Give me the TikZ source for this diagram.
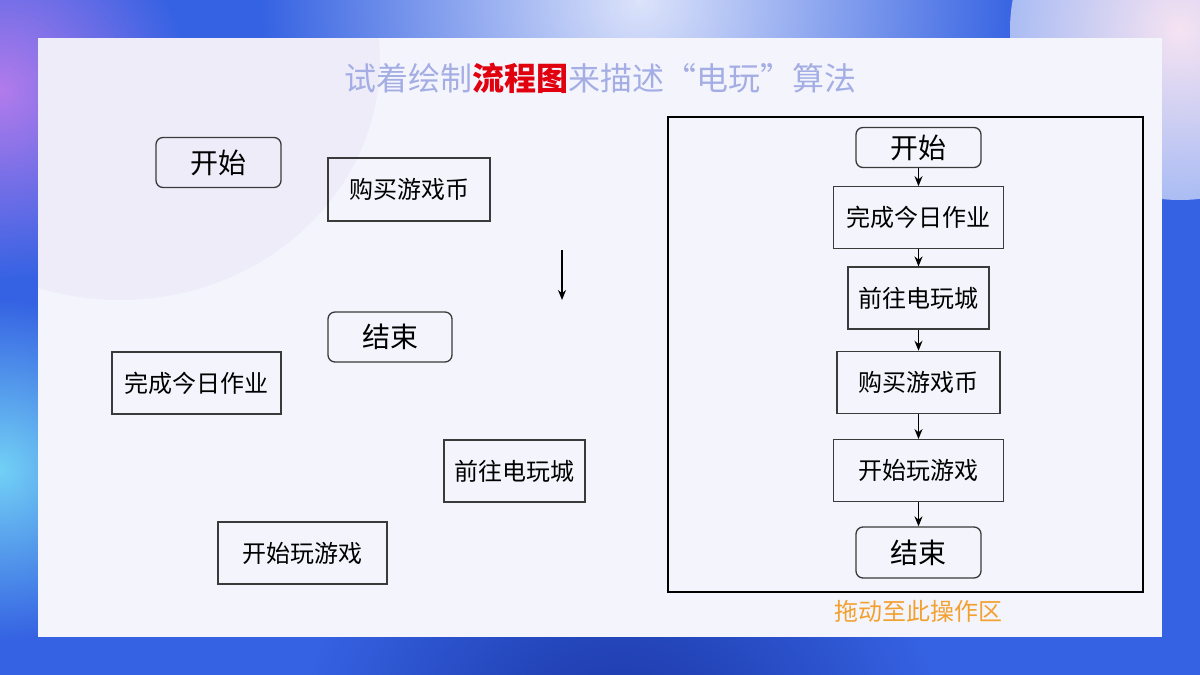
\documentclass[tikz,border=0pt]{standalone}
\usepackage{fontspec}
\setmainfont{Noto Sans CJK SC}
\usepackage{xcolor}
\usetikzlibrary{arrows.meta,positioning}
\definecolor{bgdeep}{HTML}{17309C}
\definecolor{bgblue}{HTML}{3562E2}
\definecolor{bgsky}{HTML}{72D0F5}
\definecolor{bgviolet}{HTML}{B27BEB}
\definecolor{bgpale}{HTML}{DCE3FA}
\definecolor{bgpink}{HTML}{F5E3F2}
\definecolor{panelbg}{HTML}{F4F5FC}
\definecolor{titlegray}{HTML}{A4AEE4}
\definecolor{titlered}{HTML}{E1000E}
\definecolor{boxline}{HTML}{3A3A3A}
\definecolor{hintorange}{HTML}{F2A030}

\begin{document}
\begin{tikzpicture}[
  x=1pt, y=-1pt,
  box/.style={draw=boxline, line width=1.3pt, inner sep=0pt, minimum height=62pt, font=\fontsize{24}{28}\selectfont},
  term/.style={box, rounded corners=7pt, minimum width=125pt, minimum height=50pt, font=\fontsize{28}{32}\selectfont},
  flow/.style={-{Stealth[length=10pt, width=8pt]}, line width=1.5pt, black},
  hint/.style={text=hintorange, inner sep=0pt, font=\fontsize{24}{28}\selectfont}]
  \useasboundingbox (0,0) rectangle (1200,675);
  \fill[bgblue] (0,0) rectangle (1200,675);
  \shade[inner color=bgpale, outer color=bgblue] (640,0) circle[radius=380pt];
  \shade[inner color=bgpink, outer color=bgblue!30!bgpale] (1180,30) circle[radius=170pt];
  \shade[inner color=bgviolet, outer color=bgblue] (0,90) circle[radius=190pt];
  \shade[inner color=bgsky, outer color=bgblue] (0,470) circle[radius=170pt];
  \shade[inner color=bgdeep, outer color=bgblue] (620,780) circle[radius=330pt];
  \fill[panelbg] (38,38) rectangle (1162,637);
  \begin{scope}
    \clip (38,38) rectangle (1162,637);
    \fill[bgviolet, opacity=0.07] (120,60) ellipse[x radius=260pt, y radius=240pt];
  \end{scope}

  \node[font=\fontsize{32}{36}\selectfont, inner sep=0pt] (title) at (600,78)
    {\textcolor{titlegray}{试着绘制}\textcolor{titlered}{\bfseries 流程图}\textcolor{titlegray}{来描述“电玩”算法}};

  \node[term] (lstart) at (218.5,162.5) {开始};
  \node[box, minimum width=162pt, minimum height=63pt] (lbuy) at (409,189.5) {购买游戏币};
  \node[term, minimum width=124pt] (lend) at (390,337) {结束};
  \node[box, minimum width=169pt] (lwork) at (196.5,383) {完成今日作业};
  \node[box, minimum width=141pt] (lgo) at (514.5,471) {前往电玩城};
  \node[box, minimum width=169pt] (lplay) at (302.5,553) {开始玩游戏};
  \coordinate (dragtop) at (562,250);
  \coordinate (dragtip) at (562,300);
  \draw[flow] (dragtop) -- (dragtip);

  \node[draw=black, line width=2.2pt, inner sep=0pt, minimum width=475pt, minimum height=475pt] (zone) at (905.5,354.5) {};
  \node[term, minimum height=40pt] (rstart) at (918.5,147.5) {开始};
  \node[box, minimum width=170pt, below=18pt of rstart] (rwork) {完成今日作业};
  \node[box, minimum width=141pt, below=17pt of rwork] (rgo) {前往电玩城};
  \node[box, minimum width=163pt, below=21pt of rgo] (rbuy) {购买游戏币};
  \node[box, minimum width=170pt, below=25pt of rbuy] (rplay) {开始玩游戏};
  \node[term, minimum height=51pt, below=24pt of rplay] (rend) {结束};
  \draw[flow] (rstart) -- (rwork);
  \draw[flow] (rwork) -- (rgo);
  \draw[flow] (rgo) -- (rbuy);
  \draw[flow] (rbuy) -- (rplay);
  \draw[flow] (rplay) -- (rend);
  \node[hint] (hint) at (918,611) {拖动至此操作区};
\end{tikzpicture}
\end{document}
